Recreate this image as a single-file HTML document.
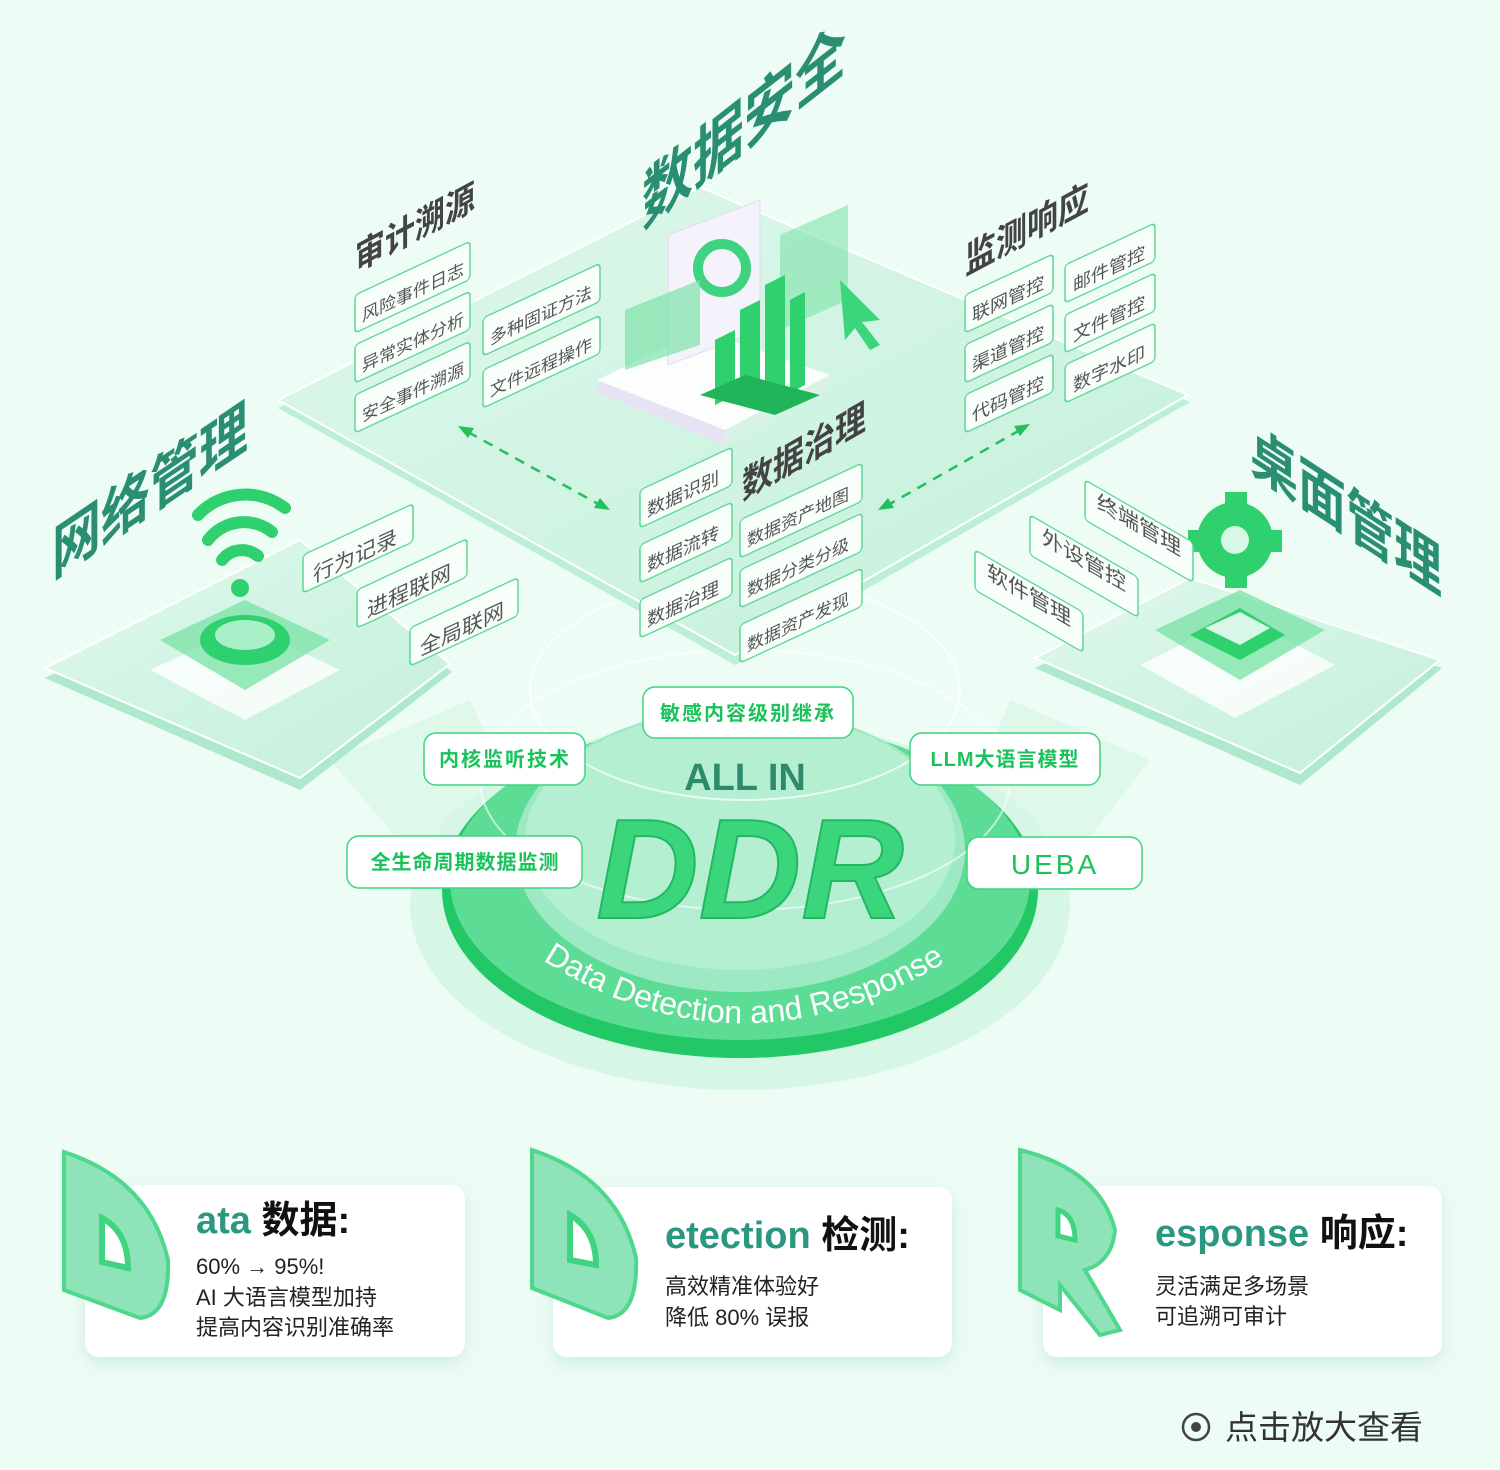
<!DOCTYPE html>
<html><head><meta charset="utf-8"><style>
html,body{margin:0;padding:0;background:#edfcf5;}
svg{display:block;font-family:"Liberation Sans","Noto Sans CJK SC",sans-serif;}
</style></head><body>
<svg width="1500" height="1470" viewBox="0 0 1500 1470" xmlns="http://www.w3.org/2000/svg">
<defs>
<linearGradient id="plat" x1="0" y1="0" x2="1" y2="1"><stop offset="0" stop-color="#dff8ec"/><stop offset="1" stop-color="#c3f0da"/></linearGradient>
<filter id="sh" x="-10%" y="-10%" width="120%" height="130%"><feDropShadow dx="0" dy="6" stdDeviation="8" flood-color="#6fbf98" flood-opacity="0.25"/></filter>
</defs>
<rect width="1500" height="1470" fill="#edfcf5"/>

<polygon points="330,760 470,700 560,900 450,900" fill="#d3f5e3" opacity="0.6"/>
<polygon points="1150,760 1010,700 930,900 1040,900" fill="#d3f5e3" opacity="0.6"/>

<ellipse cx="740" cy="905" rx="330" ry="185" fill="#d6f6e6"/>
<ellipse cx="740" cy="890" rx="298" ry="168" fill="#22c866"/>
<ellipse cx="740" cy="880" rx="290" ry="160" fill="#5ddc95"/>
<ellipse cx="740" cy="850" rx="225" ry="142" fill="#9ce9c3"/>
<ellipse cx="740" cy="840" rx="215" ry="130" fill="#b4efd2"/>
<ellipse cx="745" cy="690" rx="215" ry="110" fill="none" stroke="#ffffff" stroke-opacity="0.7" stroke-width="2"/>
<ellipse cx="745" cy="780" rx="265" ry="130" fill="none" stroke="#ffffff" stroke-opacity="0.6" stroke-width="2"/>
<path id="arc" d="M 535 955 Q 745 1095 968 948" fill="none"/>
<text font-size="32" fill="#ffffff"><textPath href="#arc" startOffset="2%">Data Detection and Response</textPath></text>
<text x="745" y="790" font-size="38" font-weight="bold" fill="#2e8a6a" text-anchor="middle">ALL IN</text>
<text x="750" y="918" font-size="142" font-weight="bold" font-style="italic" fill="#3bd57c" stroke="#22b862" stroke-width="2" text-anchor="middle">DDR</text>

<polygon points="278,408 700,195 1190,402 735,665" fill="#bdeed6"/>
<polygon points="278,400 700,187 1188,395 735,655" fill="url(#plat)" stroke="#ffffff" stroke-width="2"/>
<polygon points="45,678 300,550 452,672 300,790" fill="#aee9cc"/>
<polygon points="45,668 300,540 450,664 300,778" fill="url(#plat)" stroke="#fff" stroke-width="2"/>
<polygon points="1035,668 1190,588 1442,668 1300,785" fill="#aee9cc"/>
<polygon points="1035,658 1190,578 1440,660 1300,773" fill="url(#plat)" stroke="#fff" stroke-width="2"/>

<g stroke="#22c05c" stroke-width="2.5" stroke-dasharray="10 8" fill="none">
<line x1="468" y1="432" x2="600" y2="505"/><line x1="1020" y1="430" x2="888" y2="505"/>
</g>
<polygon points="458,426 474,428 468,438" fill="#22c05c"/>
<polygon points="610,510 594,508 600,498" fill="#22c05c"/>
<polygon points="1030,424 1014,426 1020,436" fill="#22c05c"/>
<polygon points="878,510 894,508 888,498" fill="#22c05c"/>

<polygon points="597,380 700,330 830,375 725,430" fill="#ffffff" opacity="0.9"/>
<polygon points="597,380 725,430 725,445 597,392" fill="#e8e2f5"/>
<polygon points="725,430 830,375 830,388 725,445" fill="#d8f3e6"/>
<polygon points="668,235 760,200 760,330 668,365" fill="#f4f2fb" stroke="#e0dcef"/>
<circle cx="722" cy="268" r="24" fill="none" stroke="#3fd37f" stroke-width="10"/>
<polygon points="625,310 700,280 700,345 625,370" fill="#7ee3a9" opacity="0.7"/>
<polygon points="780,235 848,205 848,300 780,330" fill="#7ee3a9" opacity="0.6"/>
<g fill="#2fd06e">
<polygon points="715,340 735,330 735,395 715,405"/>
<polygon points="740,310 760,300 760,395 740,405"/>
<polygon points="765,285 785,275 785,390 765,400"/>
<polygon points="790,300 805,292 805,385 790,393"/>
</g>
<polygon points="700,395 745,375 820,395 775,415" fill="#1fb558"/>
<polygon points="840,280 880,320 862,322 880,345 870,350 855,328 845,340" fill="#3bd57c"/>

<polygon points="150,670 245,625 340,670 245,720" fill="#ffffff" opacity="0.8"/>
<polygon points="160,640 245,600 330,640 245,690" fill="#7ee3a9" opacity="0.8"/>
<ellipse cx="245" cy="640" rx="45" ry="25" fill="#2fd06e"/>
<ellipse cx="245" cy="635" rx="30" ry="15" fill="#a8f0c8"/>
<g fill="none" stroke="#2fd06e" stroke-width="12" stroke-linecap="round">
<path d="M 222 560 A 25 25 0 0 1 258 556"/><path d="M 208 540 A 45 45 0 0 1 272 532"/><path d="M 198 515 A 65 65 0 0 1 285 508"/>
</g>
<circle cx="240" cy="588" r="9" fill="#2fd06e"/>

<polygon points="1140,665 1240,615 1335,665 1235,718" fill="#ffffff" opacity="0.8"/>
<polygon points="1155,630 1240,590 1325,630 1240,680" fill="#7ee3a9" opacity="0.8"/>
<polygon points="1190,635 1240,608 1285,635 1240,660" fill="#2fd06e"/>
<polygon points="1205,628 1240,612 1270,628 1240,645" fill="#d8f7e6"/>
<circle cx="1235" cy="540" r="38" fill="#2fd06e"/>
<circle cx="1235" cy="540" r="14" fill="#d8f7e6"/>
<g fill="#2fd06e"><rect x="1225" y="492" width="22" height="14"/><rect x="1225" y="574" width="22" height="14"/><rect x="1188" y="530" width="14" height="22"/><rect x="1268" y="530" width="14" height="22"/></g>

<g font-weight="bold" fill="#2a8f72">
<text transform="translate(642,228) skewY(-38) scale(1,1.3)" font-size="51">数据安全</text>
<text transform="translate(355,272) skewY(-28) scale(1,1.2)" font-size="30" fill="#444">审计溯源</text>
<text transform="translate(965,275) skewY(-28) scale(1,1.2)" font-size="31" fill="#444">监测响应</text>
<text transform="translate(742,500) skewY(-30) scale(1,1.2)" font-size="31" fill="#444">数据治理</text>
<text transform="translate(52,578) skewY(-34) scale(1,1.25)" font-size="49">网络管理</text>
<text transform="translate(1250,470) skewY(33) scale(1,1.25)" font-size="48">桌面管理</text>
</g>

<g font-size="17" fill="#555">
<g stroke="#5fd894" stroke-width="1.5" fill="#f8fffb">
<rect transform="translate(355,295) skewY(-25)" width="115" height="38" rx="4"/>
<rect transform="translate(355,345) skewY(-25)" width="115" height="38" rx="4"/>
<rect transform="translate(355,395) skewY(-25)" width="115" height="38" rx="4"/>
<rect transform="translate(483,318) skewY(-25)" width="117" height="38" rx="4"/>
<rect transform="translate(483,370) skewY(-25)" width="117" height="38" rx="4"/>
<rect transform="translate(965,295) skewY(-25)" width="88" height="38" rx="4"/>
<rect transform="translate(965,345) skewY(-25)" width="88" height="38" rx="4"/>
<rect transform="translate(965,395) skewY(-25)" width="88" height="38" rx="4"/>
<rect transform="translate(1065,265) skewY(-25)" width="90" height="38" rx="4"/>
<rect transform="translate(1065,315) skewY(-25)" width="90" height="38" rx="4"/>
<rect transform="translate(1065,365) skewY(-25)" width="90" height="38" rx="4"/>
<rect transform="translate(640,490) skewY(-25)" width="92" height="38" rx="4"/>
<rect transform="translate(640,545) skewY(-25)" width="92" height="38" rx="4"/>
<rect transform="translate(640,600) skewY(-25)" width="92" height="38" rx="4"/>
<rect transform="translate(740,520) skewY(-25)" width="122" height="38" rx="4"/>
<rect transform="translate(740,570) skewY(-25)" width="122" height="38" rx="4"/>
<rect transform="translate(740,625) skewY(-25)" width="122" height="38" rx="4"/>
<rect transform="translate(303,555) skewY(-25)" width="110" height="38" rx="4"/>
<rect transform="translate(357,590) skewY(-25)" width="110" height="38" rx="4"/>
<rect transform="translate(410,628) skewY(-25)" width="108" height="38" rx="4"/>
<rect transform="translate(1085,480) skewY(30)" width="108" height="40" rx="4"/>
<rect transform="translate(1030,515) skewY(30)" width="108" height="40" rx="4"/>
<rect transform="translate(975,550) skewY(30)" width="108" height="40" rx="4"/>
</g>
<text transform="translate(362,322) skewY(-25)">风险事件日志</text>
<text transform="translate(362,372) skewY(-25)">异常实体分析</text>
<text transform="translate(362,422) skewY(-25)">安全事件溯源</text>
<text transform="translate(490,345) skewY(-25)">多种固证方法</text>
<text transform="translate(490,397) skewY(-25)">文件远程操作</text>
<g font-size="18">
<text transform="translate(972,322) skewY(-25)">联网管控</text>
<text transform="translate(972,372) skewY(-25)">渠道管控</text>
<text transform="translate(972,422) skewY(-25)">代码管控</text>
<text transform="translate(1073,292) skewY(-25)">邮件管控</text>
<text transform="translate(1073,342) skewY(-25)">文件管控</text>
<text transform="translate(1073,392) skewY(-25)">数字水印</text>
<text transform="translate(647,517) skewY(-25)">数据识别</text>
<text transform="translate(647,572) skewY(-25)">数据流转</text>
<text transform="translate(647,627) skewY(-25)">数据治理</text>
</g>
<text transform="translate(747,547) skewY(-25)">数据资产地图</text>
<text transform="translate(747,597) skewY(-25)">数据分类分级</text>
<text transform="translate(747,652) skewY(-25)">数据资产发现</text>
<g font-size="21">
<text transform="translate(313,583) skewY(-25)">行为记录</text>
<text transform="translate(367,618) skewY(-25)">进程联网</text>
<text transform="translate(420,656) skewY(-25)">全局联网</text>
<text transform="translate(1097,508) skewY(30)">终端管理</text>
<text transform="translate(1042,543) skewY(30)">外设管控</text>
<text transform="translate(987,578) skewY(30)">软件管理</text>
</g>
</g>

<g fill="#ffffff" stroke="#3fd47f" stroke-width="1.5">
<rect x="643" y="687" width="210" height="51" rx="12"/>
<rect x="424" y="733" width="161" height="52" rx="12"/>
<rect x="910" y="733" width="190" height="52" rx="12"/>
<rect x="347" y="836" width="235" height="52" rx="12"/>
<rect x="967" y="837" width="175" height="52" rx="12"/>
</g>
<g fill="#19c35a" font-size="20" font-weight="bold" text-anchor="middle">
<text x="748" y="720" letter-spacing="2">敏感内容级别继承</text>
<text x="505" y="766" letter-spacing="2">内核监听技术</text>
<text x="1005" y="766" letter-spacing="1">LLM大语言模型</text>
<text x="465" y="869" letter-spacing="1">全生命周期数据监测</text>
<text x="1055" y="874" font-size="28" font-weight="normal" letter-spacing="3">UEBA</text>
</g>

<g fill="#ffffff" filter="url(#sh)">
<rect x="85" y="1185" width="380" height="172" rx="14"/>
<rect x="553" y="1187" width="399" height="170" rx="14"/>
<rect x="1043" y="1186" width="399" height="171" rx="14"/>
</g>
<path d="M64 1152 Q150 1180 168 1260 Q170 1315 140 1318 L64 1290 Z" fill="#8fe3b8" stroke="#4fd88c" stroke-width="4"/>
<path d="M102 1218 Q128 1232 128 1268 L102 1262 Z" fill="#ffffff" stroke="#3fd47f" stroke-width="6"/>
<path d="M532 1150 Q618 1178 636 1258 Q638 1315 608 1318 L532 1288 Z" fill="#8fe3b8" stroke="#4fd88c" stroke-width="4"/>
<path d="M570 1215 Q596 1230 596 1265 L570 1260 Z" fill="#ffffff" stroke="#3fd47f" stroke-width="6"/>
<path d="M1020 1150 Q1100 1170 1115 1230 Q1112 1262 1085 1270 L1120 1330 L1100 1335 L1060 1285 L1060 1310 L1020 1290 Z" fill="#8fe3b8" stroke="#4fd88c" stroke-width="4"/>
<path d="M1058 1210 Q1075 1215 1075 1240 L1058 1236 Z" fill="#ffffff" stroke="#3fd47f" stroke-width="5"/>

<g font-size="38" font-weight="bold">
<text x="196" y="1233"><tspan fill="#2a9880">ata</tspan><tspan fill="#111"> 数据:</tspan></text>
<text x="665" y="1248"><tspan fill="#2a9880">etection</tspan><tspan fill="#111"> 检测:</tspan></text>
<text x="1155" y="1246"><tspan fill="#2a9880">esponse</tspan><tspan fill="#111"> 响应:</tspan></text>
</g>
<g font-size="22" fill="#222">
<text x="196" y="1274">60% → 95%!</text>
<text x="196" y="1305">AI 大语言模型加持</text>
<text x="196" y="1335">提高内容识别准确率</text>
<text x="665" y="1294">高效精准体验好</text>
<text x="665" y="1325">降低 80% 误报</text>
<text x="1155" y="1294">灵活满足多场景</text>
<text x="1155" y="1324">可追溯可审计</text>
</g>

<circle cx="1196" cy="1427" r="13" fill="none" stroke="#444" stroke-width="2.5"/>
<circle cx="1196" cy="1427" r="5" fill="#444"/>
<text x="1225" y="1439" font-size="33" fill="#333">点击放大查看</text>
</svg>
</body></html>
